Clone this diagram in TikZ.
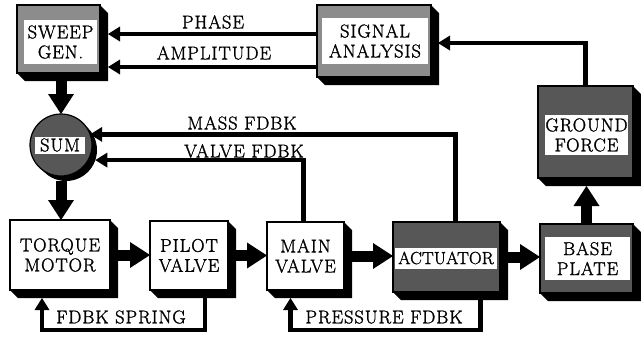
\documentclass[tikz,border=0pt]{standalone}
\usepackage{fontspec}
\newfontfamily\diafont[FakeBold=1.4,LetterSpace=5]{Latin Modern Roman}
\newfontfamily\diafontn[FakeBold=1.4,LetterSpace=1]{Latin Modern Roman}
\usetikzlibrary{arrows.meta,calc,backgrounds}
\begin{document}
\begin{tikzpicture}[x=1pt,y=-1pt,
  face/.style={draw=black,line width=1.2pt,inner sep=0pt,outer sep=0pt},
  light/.style={face,fill=white},
  midgray/.style={face,fill=black!45},
  darkgray/.style={face,fill=black!66},
  txt/.style={font=\diafont\fontsize{18.5}{20}\selectfont,align=center,inner sep=0pt},
  wbg/.style={txt,fill=white,inner sep=0pt},
  big/.style={line width=11pt,-{Triangle[length=20pt,width=26pt,line width=0pt]}},
  fb/.style={line width=4.5pt,-{Triangle[length=12pt,width=15pt,line width=0pt]}},
  lbl/.style={txt}]
\useasboundingbox (0,0) rectangle (641,338);

% boxes (faces)
\node[midgray,minimum width=83pt,minimum height=68pt] (sweep) at (58.5,39) {};
\node[midgray,minimum width=114pt,minimum height=72pt] (sig) at (374,41) {};
\node[darkgray,minimum width=95pt,minimum height=92pt] (gf) at (585.5,132) {};
\node[darkgray,circle,minimum size=62pt] (sum) at (61,145) {};
\node[light,txt,minimum width=100pt,minimum height=70pt] (tm) at (60,255) {TORQUE\\MOTOR};
\node[light,txt,minimum width=78pt,minimum height=69pt] (pv) at (189,255.5) {PILOT\\VALVE};
\node[light,txt,minimum width=77pt,minimum height=68pt] (mv) at (305.5,256) {MAIN\\VALVE};
\node[darkgray,minimum width=107pt,minimum height=70pt] (act) at (446.5,257) {};
\node[darkgray,minimum width=93pt,minimum height=69pt] (bp) at (586.5,258.5) {};

% white text panels
\node[wbg,minimum width=73pt,minimum height=44pt] (sweepT) at (60.5,42) {SWEEP\\GEN.};
\node[wbg,minimum width=106pt,minimum height=46pt] (sigT) at (375,41) {SIGNAL\\ANALYSIS};
\node[wbg,minimum width=83pt,minimum height=40pt] (gfT) at (586.5,135) {GROUND\\FORCE};
\node[wbg,minimum width=50pt,minimum height=17pt] (sumT) at (60,145) {SUM};
\node[wbg,font=\diafontn\fontsize{17.5}{20}\selectfont,minimum width=102pt,minimum height=21pt] (actT) at (446,258) {ACTUATOR};
\node[wbg,minimum width=85pt,minimum height=43pt] (bpT) at (587.5,258.5) {BASE\\PLATE};

% extrusion shadows
\begin{pgfonlayer}{background}
  \foreach \n in {sweep,sig,gf,tm,pv,mv,act,bp}{
    \fill (\n.north east) -- ([shift={(8pt,-8pt)}]\n.north east)
      -- ([shift={(8pt,-8pt)}]\n.south east)
      -- ([shift={(8pt,-8pt)}]\n.south west) -- (\n.south west) -- cycle;
  }
  \node[circle,fill=black,minimum size=62pt,inner sep=0pt,outer sep=0pt] (sumS) at (66,150) {};
\end{pgfonlayer}

% helper coordinates
\coordinate (phaseY) at (0,34);
\coordinate (ampY) at (0,67);
\coordinate (sweepR) at ([xshift=8pt]sweep.east);
\coordinate (sweepB) at ([yshift=-8pt]sweep.south);
\coordinate (sigR) at ([shift={(7pt,-2pt)}]sig.east);
\coordinate (gfB) at ([yshift=-8pt]gf.south);
\coordinate (sumB) at ([yshift=-5pt]sum.south);

% forward path
\draw[big] (sum.north |- sweepB) -- (sum.north);
\draw[big] (sumB) -- (sumB |- tm.north);
\draw[big] ([xshift=8pt]tm.east) -- (tm.east -| pv.west);
\draw[big] ([xshift=8pt]pv.east) -- (pv.east -| mv.west);
\draw[big] ([xshift=8pt]mv.east) -- (mv.east -| act.west);
\draw[big] ([xshift=8pt]act.east) -- (act.east -| bp.west);
\draw[big] (bp.north) -- (bp.north |- gfB);

% signal lines
\draw[fb] (sig.west |- phaseY) -- (sweepR |- phaseY);
\draw[fb] (sig.west |- ampY) -- (sweepR |- ampY);
\draw[fb] (gf.north) |- (sigR);

% feedback
\draw[fb] ([xshift=9pt]act.north) |- (sum.20);
\draw[fb] ([xshift=-2pt]mv.north) |- (sumS.-19);
\draw[fb] ([shift={(16pt,-8pt)}]pv.south) -- ++(0,-32pt) -| ([shift={(-18pt,-8pt)}]tm.south);
\draw[fb] ([shift={(34pt,-8pt)}]act.south) -- ++(0,-30pt) -| ([shift={(-15pt,-8pt)}]mv.south);

% labels
\node[lbl] (lphase) at (213,22) {PHASE};
\node[lbl] (lamp) at (214,53) {AMPLITUDE};
\node[lbl] (lmass) at (242,123) {MASS FDBK};
\node[lbl] (lvalve) at (244,151) {VALVE FDBK};
\node[lbl] (lspring) at (121,317) {FDBK SPRING};
\node[lbl] (lpress) at (384,317) {PRESSURE FDBK};
\end{tikzpicture}
\end{document}
